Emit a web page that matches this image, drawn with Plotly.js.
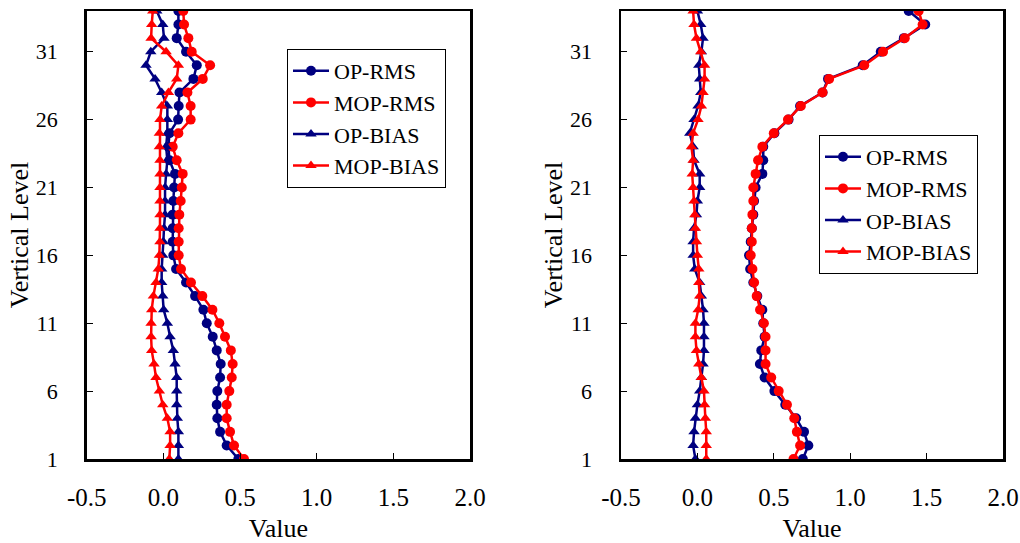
<!DOCTYPE html>
<html>
<head>
<meta charset="utf-8">
<script src="https://cdn.plot.ly/plotly-3.0.1.min.js"></script>
<style>html,body{margin:0;padding:0;background:#fff;}#chart{width:1020px;height:543px;}</style>
</head>
<body>
<div id="chart"></div>
<script>
// Vertical levels 1..34
const levels = [1,2,3,4,5,6,7,8,9,10,11,12,13,14,15,16,17,18,19,20,21,22,23,24,25,26,27,28,29,30,31,32,33,34];
const seriesNames = ["OP-RMS", "MOP-RMS", "OP-BIAS", "MOP-BIAS"];

// Left panel
const leftOpRms   = [0.489,0.413,0.370,0.352,0.348,0.352,0.370,0.374,0.348,0.322,0.283,0.261,0.207,0.148,0.083,0.065,0.061,0.061,0.061,0.065,0.070,0.076,0.040,0.033,0.040,0.096,0.100,0.105,0.196,0.218,0.148,0.087,0.098,0.098];
const leftMopRms  = [0.526,0.461,0.435,0.413,0.413,0.430,0.446,0.452,0.440,0.402,0.365,0.320,0.254,0.180,0.115,0.100,0.100,0.100,0.104,0.113,0.120,0.126,0.087,0.061,0.098,0.178,0.178,0.157,0.257,0.305,0.185,0.163,0.135,0.130];
const leftOpBias  = [0.098,0.098,0.098,0.091,0.087,0.087,0.087,0.076,0.065,0.044,0.026,0.002,-0.004,-0.011,-0.011,-0.004,0.000,0.004,0.011,0.011,0.011,0.018,0.026,0.018,0.026,0.026,0.026,-0.011,-0.054,-0.113,-0.082,0.004,-0.004,-0.043];
const leftMopBias = [0.039,0.044,0.044,0.026,-0.004,-0.026,-0.048,-0.061,-0.076,-0.080,-0.080,-0.076,-0.065,-0.048,-0.033,-0.026,-0.022,-0.022,-0.022,-0.022,-0.022,-0.022,-0.022,-0.026,-0.026,-0.022,-0.011,0.033,0.087,0.098,0.018,-0.080,-0.076,-0.069];

// Right panel
const rightOpRms   = [0.690,0.726,0.698,0.646,0.575,0.504,0.440,0.409,0.418,0.440,0.431,0.425,0.392,0.366,0.345,0.338,0.349,0.356,0.366,0.371,0.381,0.425,0.431,0.431,0.504,0.597,0.672,0.819,0.855,1.082,1.200,1.351,1.491,1.383];
const rightMopRms  = [0.629,0.672,0.651,0.634,0.586,0.532,0.483,0.446,0.446,0.446,0.435,0.410,0.388,0.371,0.360,0.349,0.356,0.356,0.360,0.366,0.366,0.381,0.397,0.425,0.500,0.593,0.677,0.819,0.862,1.092,1.215,1.357,1.474,1.448];
const rightOpBias  = [-0.013,-0.028,-0.022,-0.013,0.000,0.015,0.026,0.037,0.043,0.043,0.043,0.037,0.026,0.015,-0.017,-0.028,-0.028,-0.022,-0.006,0.000,0.015,0.015,-0.022,-0.028,-0.050,-0.022,0.004,0.022,0.015,0.009,0.026,0.037,0.022,0.000];
const rightMopBias = [0.058,0.058,0.058,0.052,0.047,0.043,0.026,0.009,-0.006,-0.013,-0.013,0.005,0.015,0.009,0.009,0.000,-0.006,-0.013,-0.017,-0.022,-0.028,-0.034,-0.028,-0.039,-0.028,0.004,0.026,0.037,0.047,0.047,0.022,-0.006,-0.022,-0.028];

// Tick labels
const xTickVals = [-0.5, 0, 0.5, 1.0, 1.5, 2.0];
const xTickText = ["-0.5", "0.0", "0.5", "1.0", "1.5", "2.0"];
const yTickVals = [1, 6, 11, 16, 21, 26, 31];
const yTickText = ["1", "6", "11", "16", "21", "26", "31"];

const NAVY = "#000080", RED = "#FF0000";
const FONT = "Liberation Serif, Times New Roman, serif";

function mk(x, name, color, symbol, xa, ya, leg) {
  return {
    x: x, y: levels, name: name, type: "scatter", mode: "lines+markers",
    xaxis: xa, yaxis: ya, legend: leg,
    line: {color: color, width: 2.5},
    marker: {color: color, symbol: symbol, size: 10}
  };
}

const traces = [
  mk(leftOpRms,   seriesNames[0], NAVY, "circle",       "x",  "y",  "legend"),
  mk(leftMopRms,  seriesNames[1], RED,  "circle",       "x",  "y",  "legend"),
  mk(leftOpBias,  seriesNames[2], NAVY, "triangle-up",  "x",  "y",  "legend"),
  mk(leftMopBias, seriesNames[3], RED,  "triangle-up",  "x",  "y",  "legend"),
  mk(rightOpRms,   seriesNames[0], NAVY, "circle",      "x2", "y2", "legend2"),
  mk(rightMopRms,  seriesNames[1], RED,  "circle",      "x2", "y2", "legend2"),
  mk(rightOpBias,  seriesNames[2], NAVY, "triangle-up", "x2", "y2", "legend2"),
  mk(rightMopBias, seriesNames[3], RED,  "triangle-up", "x2", "y2", "legend2")
];

function xAxis(dom, anchor) {
  return {
    domain: dom, anchor: anchor, range: [-0.5, 2.0],
    tickmode: "array", tickvals: xTickVals, ticktext: xTickText,
    ticks: "inside", ticklen: 6, tickwidth: 1, tickcolor: "#000",
    showline: true, mirror: true, linecolor: "#000", linewidth: 2.5,
    showgrid: false, zeroline: false,
    tickfont: {family: FONT, size: 25, color: "#000"},
    ticklabelstandoff: 14,
    title: {text: "Value", font: {family: FONT, size: 26, color: "#000"}, standoff: 10}
  };
}
function yAxis(dom, anchor) {
  return {
    domain: dom, anchor: anchor, range: [1, 34],
    tickmode: "array", tickvals: yTickVals, ticktext: yTickText,
    ticks: "inside", ticklen: 6, tickwidth: 1, tickcolor: "#000",
    showline: true, mirror: true, linecolor: "#000", linewidth: 2.5,
    showgrid: false, zeroline: false,
    tickfont: {family: FONT, size: 22, color: "#000"},
    ticklabelstandoff: 22,
    title: {text: "Vertical Level", font: {family: FONT, size: 26, color: "#000"}, standoff: 0}
  };
}

const yDom = [1 - 459/543, 1 - 11/543];
const legendBase = {
  xanchor: "left", yanchor: "top", bgcolor: "#fff",
  bordercolor: "#000", borderwidth: 1,
  font: {family: FONT, size: 22, color: "#000"},
  tracegroupgap: 0, itemwidth: 36
};

const layout = {
  width: 1020, height: 543,
  margin: {l: 0, r: 0, t: 0, b: 0},
  paper_bgcolor: "#fff", plot_bgcolor: "#fff",
  showlegend: true,
  xaxis: xAxis([86.7/1020, 470/1020], "y"),
  yaxis: yAxis(yDom, "x"),
  xaxis2: xAxis([621/1020, 1003/1020], "y2"),
  yaxis2: yAxis(yDom, "x2"),
  legend: Object.assign({}, legendBase, {x: 287/1020, y: 1 - 49/543}),
  legend2: Object.assign({}, legendBase, {x: 819/1020, y: 1 - 135/543})
};

Plotly.newPlot("chart", traces, layout, {displayModeBar: false, staticPlot: true});
</script>
</body>
</html>
